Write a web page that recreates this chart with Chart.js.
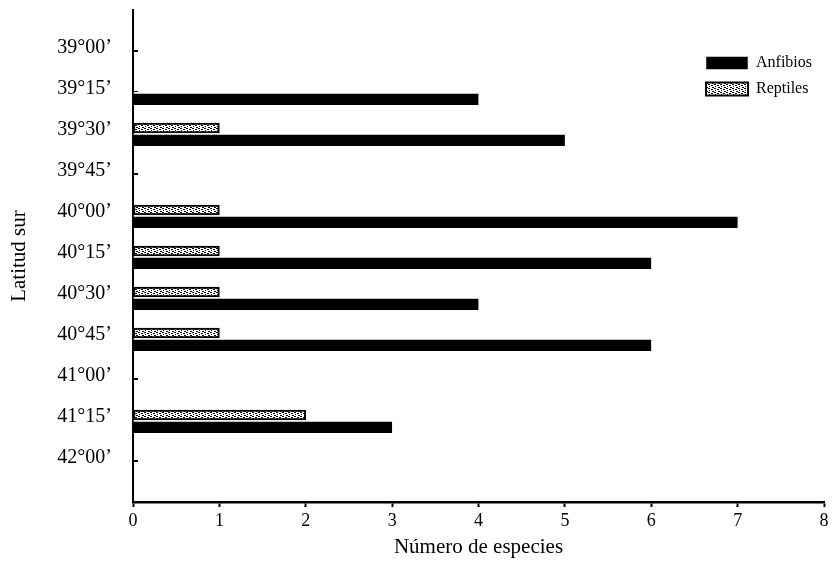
<!DOCTYPE html>
<html>
<head>
<meta charset="utf-8">
<script src="https://cdn.jsdelivr.net/npm/chart.js@4.4.0/dist/chart.umd.min.js"></script>
<style>
  html, body { margin: 0; padding: 0; background: #fff; }
</style>
</head>
<body>
<canvas id="bar-chart" width="832" height="571"></canvas>
<script>
// datos
const latitudes = ["39°00’", "39°15’", "39°30’", "39°45’", "40°00’", "40°15’", "40°30’", "40°45’", "41°00’", "41°15’", "42°00’"];
const anfibios = [0, 4, 5, 0, 7, 6, 4, 6, 0, 3, 0];
const reptiles = [0, 0, 1, 0, 1, 1, 1, 1, 0, 2, 0];
const especiesMax = 8;

const serif = "'Liberation Serif', 'DejaVu Serif', serif";

// trama de los reptiles
function makePattern() {
    const c = document.createElement('canvas');
    c.width = 6;
    c.height = 4;
    const p = c.getContext('2d');
    p.fillStyle = '#fff';
    p.fillRect(0, 0, 6, 4);
    p.fillStyle = '#000';
    p.fillRect(0, 0, 2, 1);
    p.fillRect(3, 1, 2, 1);
    p.fillRect(1, 2, 1, 1);
    p.fillRect(4, 3, 2, 1);
    return p.createPattern(c, 'repeat');
}

// marcas cortas hacia dentro en el eje y
const innerTicks = {
    id: 'innerTicks',
    beforeDatasetsDraw(chart) {
        const y = chart.scales.y;
        const ctx = chart.ctx;
        ctx.save();
        ctx.strokeStyle = '#000';
        ctx.lineWidth = 2;
        y.ticks.forEach((t, i) => {
            const py = y.getPixelForTick(i);
            ctx.beginPath();
            ctx.moveTo(chart.chartArea.left, py);
            ctx.lineTo(chart.chartArea.left + 5, py);
            ctx.stroke();
        });
        ctx.restore();
    }
};

// leyenda arriba a la derecha dentro del area
const legendPlace = {
    id: 'legendPlace',
    afterLayout(chart) {
        const lg = chart.legend;
        lg.left = 696;
        lg.top = 45;
    }
};

const ctx = document.getElementById('bar-chart');
const chart = new Chart(ctx, {
    type: 'bar',
    data: {
        datasets: [{
            label: 'Reptiles',
            data: reptiles.map((v, i) => ({ x: v, y: i })),
            backgroundColor: makePattern(),
            borderColor: '#000',
            borderWidth: 2,
            borderSkipped: false,
            barThickness: 10
        }, {
            label: 'Anfibios',
            data: anfibios.map((v, i) => ({ x: v, y: i })),
            backgroundColor: '#000',
            borderColor: '#fff',
            borderWidth: { top: 2, right: 0, bottom: 0, left: 0 },
            barThickness: 13
        }]
    },
    options: {
        responsive: false,
        animation: false,
        indexAxis: 'y',
        layout: { padding: { top: 10, right: 8, left: 0, bottom: 0 } },
        plugins: {
            tooltip: { enabled: false },
            legend: {
                position: 'chartArea',
                align: 'start',
                labels: {
                    boxWidth: 42,
                    boxHeight: 13,
                    padding: 10,
                    color: '#000',
                    font: { family: serif, size: 16 },
                    sort: (a, b) => b.datasetIndex - a.datasetIndex
                }
            }
        },
        scales: {
            x: {
                type: 'linear',
                min: 0,
                max: especiesMax,
                ticks: { stepSize: 1, color: '#000', padding: 3, font: { family: serif, size: 18 } },
                grid: { drawOnChartArea: false, tickLength: 5, color: '#000', tickWidth: 2 },
                border: { color: '#000', width: 2.5 },
                title: {
                    display: true,
                    text: 'Número de especies',
                    color: '#000',
                    font: { family: serif, size: 21 },
                    padding: { top: 0, bottom: 11 }
                },
                afterFit(scale) { scale.height = 69; }
            },
            y: {
                type: 'linear',
                reverse: true,
                offset: false,
                min: -1,
                max: latitudes.length,
                afterBuildTicks(scale) {
                    scale.ticks = scale.ticks.filter(t => t.value >= 0 && t.value < latitudes.length);
                },
                ticks: {
                    stepSize: 1,
                    color: '#000',
                    padding: 21,
                    labelOffset: -3,
                    font: { family: serif, size: 20 },
                    callback: (v) => latitudes[v] || ''
                },
                grid: { offset: false, drawOnChartArea: false, drawTicks: false },
                border: { color: '#000', width: 2 },
                title: {
                    display: true,
                    text: 'Latitud sur',
                    color: '#000',
                    font: { family: serif, size: 21 },
                    padding: { top: 7, bottom: 0 }
                },
                afterFit(scale) {
                    scale.width = 133;
                    scale.paddingTop = 0;
                    scale.paddingBottom = 0;
                }
            }
        }
    },
    plugins: [innerTicks, legendPlace]
});
</script>
</body>
</html>
